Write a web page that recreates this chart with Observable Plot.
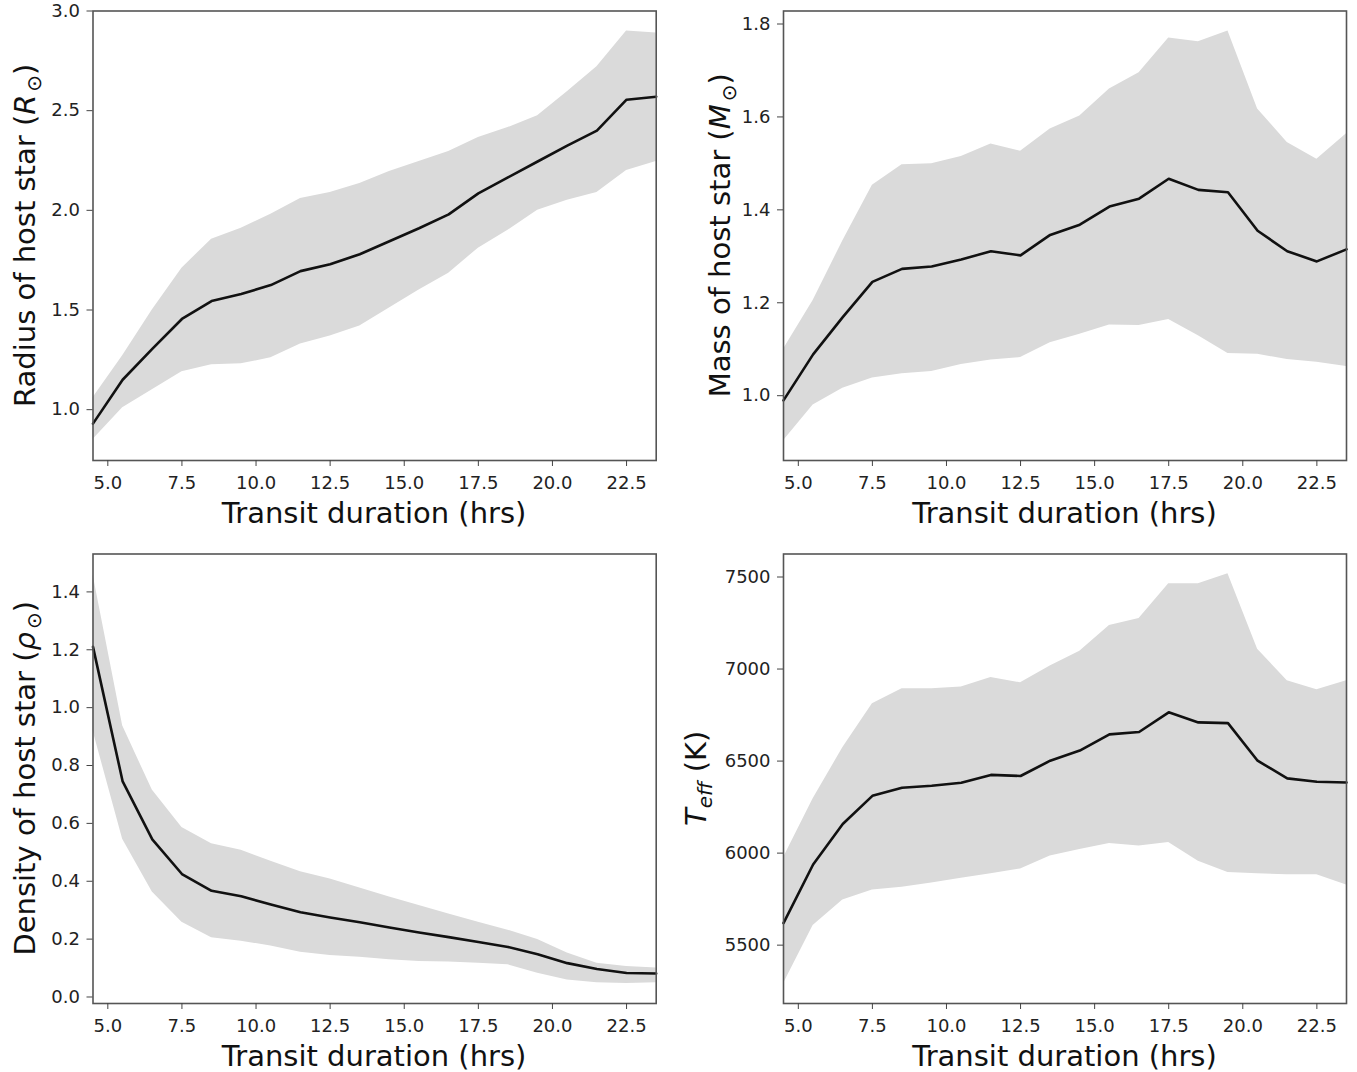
<!DOCTYPE html>
<html>
<head>
<meta charset="utf-8">
<script src="https://cdn.jsdelivr.net/npm/d3@7"></script>
<script src="https://cdn.jsdelivr.net/npm/@observablehq/plot@0.6"></script>
<style>
  body { margin: 0; background: #fff; }
  #wrap { position: relative; width: 1357px; height: 1072px; overflow: hidden; background: #fff; }
  #wrap > .panel { position: absolute; }
  #wrap svg { overflow: visible; }
</style>
</head>
<body>
<div id="wrap"></div>
<script>
// ---- data ----
const duration = [4.5, 5.5, 6.5, 7.5, 8.5, 9.5, 10.5, 11.5, 12.5, 13.5, 14.5, 15.5, 16.5, 17.5, 18.5, 19.5, 20.5, 21.5, 22.5, 23.5];

const radiusMean = [0.93, 1.15, 1.305, 1.455, 1.545, 1.58, 1.625, 1.695, 1.73, 1.78, 1.845, 1.91, 1.98, 2.085, 2.165, 2.245, 2.325, 2.40, 2.555, 2.57];
const radiusLow  = [0.85, 1.01, 1.10, 1.19, 1.225, 1.23, 1.26, 1.33, 1.37, 1.42, 1.51, 1.60, 1.685, 1.81, 1.90, 2.00, 2.05, 2.09, 2.20, 2.245];
const radiusHigh = [1.06, 1.27, 1.50, 1.71, 1.855, 1.91, 1.98, 2.06, 2.09, 2.135, 2.195, 2.245, 2.295, 2.365, 2.415, 2.475, 2.595, 2.72, 2.90, 2.89];

const massMean = [0.99, 1.089, 1.169, 1.245, 1.273, 1.278, 1.293, 1.311, 1.302, 1.346, 1.368, 1.407, 1.424, 1.467, 1.443, 1.438, 1.355, 1.311, 1.289, 1.315];
const massLow  = [0.903, 0.98, 1.016, 1.038, 1.047, 1.052, 1.067, 1.077, 1.082, 1.114, 1.132, 1.152, 1.151, 1.164, 1.129, 1.091, 1.089, 1.078, 1.072, 1.063];
const massHigh = [1.10, 1.205, 1.333, 1.453, 1.497, 1.499, 1.515, 1.542, 1.526, 1.574, 1.602, 1.66, 1.695, 1.77, 1.762, 1.785, 1.617, 1.545, 1.509, 1.564];

const densityMean = [1.21, 0.745, 0.545, 0.425, 0.367, 0.348, 0.32, 0.293, 0.275, 0.258, 0.24, 0.223, 0.207, 0.19, 0.173, 0.148, 0.117, 0.097, 0.083, 0.081];
const densityLow  = [0.92, 0.545, 0.363, 0.258, 0.205, 0.193, 0.176, 0.155, 0.143, 0.137, 0.129, 0.123, 0.121, 0.117, 0.111, 0.082, 0.059, 0.049, 0.047, 0.049];
const densityHigh = [1.46, 0.937, 0.715, 0.586, 0.53, 0.507, 0.469, 0.433, 0.408, 0.377, 0.346, 0.316, 0.287, 0.258, 0.231, 0.199, 0.152, 0.117, 0.105, 0.10];

const teffMean = [5620, 5938, 6158, 6311, 6355, 6366, 6382, 6425, 6419, 6502, 6557, 6645, 6658, 6765, 6710, 6706, 6502, 6406, 6388, 6384];
const teffLow  = [5290, 5607, 5745, 5800, 5815, 5838, 5864, 5888, 5914, 5984, 6020, 6052, 6039, 6057, 5956, 5895, 5888, 5882, 5882, 5827];
const teffHigh = [5975, 6296, 6572, 6811, 6893, 6893, 6903, 6954, 6925, 7017, 7096, 7237, 7274, 7463, 7463, 7518, 7108, 6936, 6888, 6936];

const xTicks = [5, 7.5, 10, 12.5, 15, 17.5, 20, 22.5];
const radiusTicks = [1.0, 1.5, 2.0, 2.5, 3.0];
const massTicks = [1.0, 1.2, 1.4, 1.6, 1.8];
const densityTicks = [0.0, 0.2, 0.4, 0.6, 0.8, 1.0, 1.2, 1.4];
const teffTicks = [5500, 6000, 6500, 7000, 7500];

const xLabel = "Transit duration (hrs)";

// ---- panel setup ----
const panels = [
  { mean: radiusMean, low: radiusLow, high: radiusHigh, yDomain: [0.745, 3.0], yTicks: radiusTicks, fmt: ".1f",
    label: [{t: "Radius of host star ("}, {t: "R", it: true}, {t: "⊙", sub: true}, {t: ")"}],
    left: 0, top: 0, width: 680, ml: 92.5, mr: 24.3, ylx: 35 },
  { mean: massMean, low: massLow, high: massHigh, yDomain: [0.8605, 1.828], yTicks: massTicks, fmt: ".1f",
    label: [{t: "Mass of host star ("}, {t: "M", it: true}, {t: "⊙", sub: true}, {t: ")"}],
    left: 678, top: 0, width: 679, ml: 105, mr: 11, ylx: 52 },
  { mean: densityMean, low: densityLow, high: densityHigh, yDomain: [-0.0225, 1.531], yTicks: densityTicks, fmt: ".1f",
    label: [{t: "Density of host star ("}, {t: "ρ", it: true}, {t: "⊙", sub: true}, {t: ")"}],
    left: 0, top: 542.5, width: 680, ml: 92.5, mr: 24.3, ylx: 35 },
  { mean: teffMean, low: teffLow, high: teffHigh, yDomain: [5183, 7625], yTicks: teffTicks, fmt: "d",
    label: [{t: "T", it: true}, {t: "eff", it: true, sub: true}, {t: " (K)"}],
    left: 678, top: 542.5, width: 679, ml: 105, mr: 11, ylx: 28 }
];

const wrap = document.getElementById("wrap");
const H = 529.5, MT = 10.5, MB = 69.5;
const FONT = "DejaVu Sans, Liberation Sans, sans-serif";

function addLabel(svg, parts, x, y, rotate) {
  const t = d3.select(svg).append("text")
    .attr("transform", `translate(${x},${y})` + (rotate ? " rotate(-90)" : ""))
    .attr("text-anchor", "middle")
    .attr("font-family", FONT)
    .attr("font-size", 29)
    .attr("fill", "#111");
  let shifted = 0;
  for (const p of parts) {
    const s = t.append("tspan").text(p.t);
    if (p.it) s.attr("font-style", "italic");
    if (p.sub) {
      s.attr("font-size", 20).attr("dy", 6 - shifted).attr("dx", p.t === "⊙" ? 3 : 0);
      shifted = 6;
    } else if (shifted) {
      s.attr("dy", -shifted);
      shifted = 0;
    }
  }
}

for (const p of panels) {
  const data = duration.map((d, i) => ({x: d, m: p.mean[i], lo: p.low[i], hi: p.high[i]}));
  const svg = Plot.plot({
    width: p.width,
    height: H,
    marginLeft: p.ml,
    marginRight: p.mr,
    marginTop: MT,
    marginBottom: MB,
    style: { fontFamily: FONT, fontSize: "18px", color: "#222", background: "transparent", overflow: "visible" },
    x: { domain: [4.5, 23.5] },
    y: { domain: p.yDomain },
    marks: [
      Plot.areaY(data, { x: "x", y1: "lo", y2: "hi", fill: "#dadada" }),
      Plot.lineY(data, { x: "x", y: "m", stroke: "#111", strokeWidth: 2.6, strokeLinejoin: "round" }),
      Plot.frame({ stroke: "#555", strokeWidth: 1.6 }),
      Plot.axisX({ ticks: xTicks, tickFormat: d3.format(".1f"), tickSize: 6, tickPadding: 9.5, label: null, stroke: "#444", fill: "#222" }),
      Plot.axisY({ ticks: p.yTicks, tickFormat: d3.format(p.fmt), tickSize: 6, tickPadding: 7, label: null, stroke: "#444", fill: "#222" })
    ]
  });
  const div = document.createElement("div");
  div.className = "panel";
  div.style.left = p.left + "px";
  div.style.top = p.top + "px";
  div.appendChild(svg);
  wrap.appendChild(div);

  const frameCx = p.ml + (p.width - p.ml - p.mr) / 2;
  const frameCy = MT + (H - MT - MB) / 2;
  addLabel(svg, [{t: xLabel}], frameCx, 523, false);
  addLabel(svg, p.label, p.ylx, frameCy, true);
}
</script>
</body>
</html>
